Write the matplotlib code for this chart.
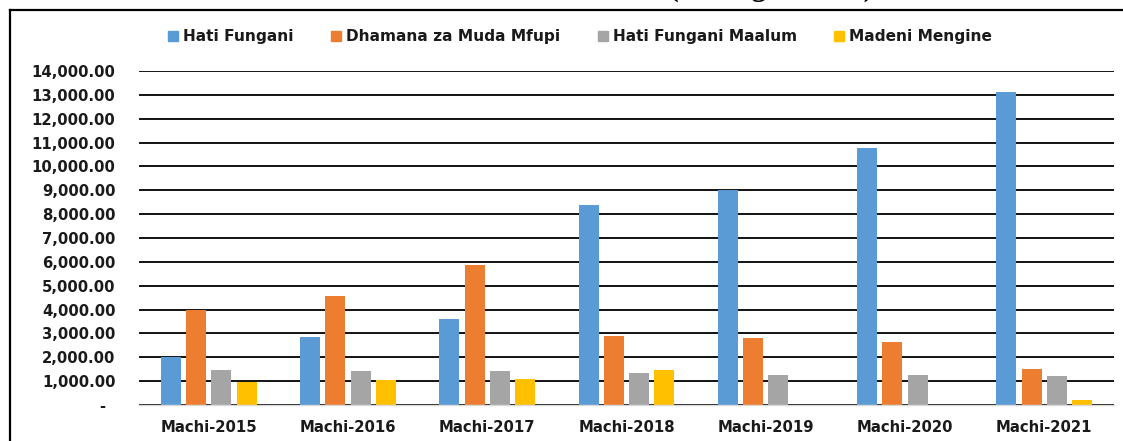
import matplotlib
matplotlib.use('Agg')
import matplotlib.pyplot as plt
from matplotlib.lines import Line2D
from matplotlib.ticker import FuncFormatter
import numpy as np

# -------------------- DATA --------------------
categories = ["Machi-2015", "Machi-2016", "Machi-2017", "Machi-2018",
              "Machi-2019", "Machi-2020", "Machi-2021"]
series_names = ["Hati Fungani", "Dhamana za Muda Mfupi",
                "Hati Fungani Maalum", "Madeni Mengine"]
hati_fungani = [2000, 2860, 3590, 8380, 9010, 10760, 13120]
dhamana = [3980, 4570, 5870, 2905, 2795, 2640, 1500]
hati_maalum = [1465, 1425, 1425, 1330, 1260, 1260, 1215]
madeni_mengine = [950, 1050, 1075, 1465, 0, 0, 210]
colors = ["#5B9BD5", "#ED7D31", "#A5A5A5", "#FFC000"]

# -------------------- FIGURE --------------------
W, H = 1123, 441
fig = plt.figure(figsize=(W / 100, H / 100), dpi=100)
ax = fig.add_axes([139 / W, 36 / H, 975 / W, 334 / H])

x = np.arange(len(categories))
step = 0.1816
width = 0.1436
all_series = [hati_fungani, dhamana, hati_maalum, madeni_mengine]
for i, (vals, col) in enumerate(zip(all_series, colors)):
    ax.bar(x + (i - 1.5) * step, vals, width=width, color=col, zorder=3)

ax.set_xlim(-0.5, len(categories) - 0.5)
ax.set_ylim(0, 14000)
ax.set_yticks(np.arange(0, 14001, 1000))
ax.yaxis.set_major_formatter(FuncFormatter(
    lambda v, p: "-" if v == 0 else "{:,.2f}".format(v)))
ax.set_xticks(x)
ax.set_xticklabels(categories)

ax.grid(axis="y", color="black", linewidth=1.3, zorder=0)
for s in ["top", "right", "left"]:
    ax.spines[s].set_visible(False)
ax.spines["bottom"].set_color("#d9d9d9")
ax.spines["bottom"].set_linewidth(1.0)
ax.spines["bottom"].set_zorder(4)

ax.tick_params(axis="both", length=0)
ax.tick_params(axis="y", pad=17)
ax.tick_params(axis="x", pad=11)
for lab in ax.get_yticklabels() + ax.get_xticklabels():
    lab.set_fontweight("bold")
    lab.set_fontsize(10.7)
    lab.set_color("#1a1a1a")
# the zero label sits a little left of the others
ax.get_yticklabels()[0].set_x(-0.01)

# -------------------- LEGEND --------------------
handles = [Line2D([], [], marker="s", linestyle="none", markersize=6.8,
                  markerfacecolor=c, markeredgecolor=c) for c in colors]
leg = fig.legend(handles, series_names, ncol=4, loc="center",
                 bbox_to_anchor=(580 / W, 1 - 37 / H), frameon=False,
                 handlelength=0.7, handletextpad=0.3, columnspacing=2.4,
                 prop={"weight": "bold", "size": 11.1})
for t in leg.get_texts():
    t.set_color("#1a1a1a")

# -------------------- FRAME & CLIPPED TITLE --------------------
fig.add_artist(Line2D([9.5 / W, 9.5 / W], [0, 1 - 10 / H],
                      transform=fig.transFigure, color="black", linewidth=1.6))
fig.add_artist(Line2D([9.5 / W, 1], [1 - 10 / H, 1 - 10 / H],
                      transform=fig.transFigure, color="black", linewidth=1.6))
fig.text(771 / W, 1 + 4 / H, "(Shilingi Bilioni)", ha="center", va="baseline",
         fontsize=21, fontweight="bold", family="Liberation Serif")

fig.savefig("out.png", dpi=100)
plt.close(fig)
